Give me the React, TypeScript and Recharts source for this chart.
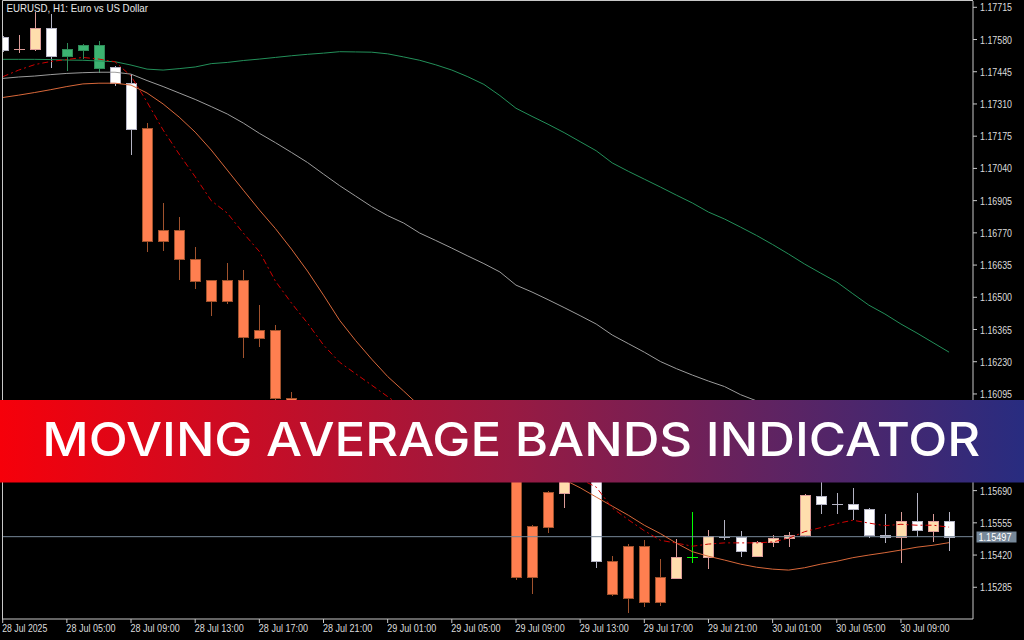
import React from 'react';
import { ComposedChart, Bar, Line, XAxis, YAxis, ReferenceLine } from 'recharts';

// ---- tick labels ----
const timeTicks = [0, 4, 8, 12, 16, 20, 24, 28, 32, 36, 40, 44, 48, 52, 56];
const timeLabels = [
  '28 Jul 2025', '28 Jul 05:00', '28 Jul 09:00', '28 Jul 13:00', '28 Jul 17:00',
  '28 Jul 21:00', '29 Jul 01:00', '29 Jul 05:00', '29 Jul 09:00', '29 Jul 13:00',
  '29 Jul 17:00', '29 Jul 21:00', '30 Jul 01:00', '30 Jul 05:00', '30 Jul 09:00',
];
const priceTicks = [
  1.17715, 1.1758, 1.17445, 1.1731, 1.17175, 1.1704, 1.16905, 1.1677, 1.16635, 1.165,
  1.16365, 1.1623, 1.16095, 1.1596, 1.15825, 1.1569, 1.15555, 1.1542, 1.15285,
];
const priceDomain = [1.151521, 1.177414];
const lastPrice = 1.15497;

// ---- candles (H1 EURUSD) ----
const openP = [
  1.17589, 1.17541, 1.17539, 1.17627, 1.17511, 1.17536, 1.17556, 1.17464, 1.17397, 1.17208,
  1.16737, 1.16782, 1.1666, 1.16572, 1.16485, 1.16572, 1.1633, 1.16365, 1.1608, 1.16057,
  1.15985, 1.1601, 1.15943, 1.15964, 1.15902, 1.15918, 1.1586, 1.15876, 1.15826, 1.15851,
  1.15809, 1.15839, 1.15776, 1.15329, 1.15538, 1.15682, 1.15742, 1.15759, 1.15396, 1.15241,
  1.15458, 1.15224, 1.15324, 1.1541, 1.1541, 1.15496, 1.15494, 1.15417, 1.15475, 1.1549,
  1.15506, 1.15668, 1.15636, 1.15636, 1.15615, 1.15506, 1.15495, 1.15563, 1.15521, 1.15563,
];
const highP = [
  1.17595, 1.17599, 1.17694, 1.17687, 1.17564, 1.17561, 1.17572, 1.17469, 1.17435, 1.17229,
  1.16896, 1.16837, 1.16712, 1.16572, 1.16642, 1.16614, 1.16467, 1.16383, 1.16103, 1.1606,
  1.16027, 1.16019, 1.15985, 1.15973, 1.15943, 1.15935, 1.15902, 1.15889, 1.15868, 1.15872,
  1.1586, 1.15851, 1.15809, 1.15545, 1.15689, 1.15751, 1.15784, 1.15776, 1.15415, 1.15466,
  1.15482, 1.15404, 1.15487, 1.15601, 1.15524, 1.15566, 1.15521, 1.15478, 1.15506, 1.15516,
  1.15675, 1.15742, 1.15678, 1.15703, 1.15616, 1.15594, 1.15601, 1.15681, 1.1559, 1.15601,
];
const lowP = [
  1.17532, 1.17529, 1.17536, 1.17466, 1.17452, 1.17501, 1.17445, 1.17389, 1.17099, 1.16695,
  1.16698, 1.16575, 1.1654, 1.16425, 1.16474, 1.16251, 1.16297, 1.16071, 1.16044, 1.15969,
  1.15952, 1.15918, 1.1591, 1.15876, 1.15868, 1.15839, 1.15826, 1.15801, 1.15792, 1.15776,
  1.15784, 1.15751, 1.15318, 1.15262, 1.15517, 1.15622, 1.1573, 1.15368, 1.15253, 1.15182,
  1.15207, 1.1521, 1.15322, 1.15392, 1.15366, 1.15487, 1.15417, 1.15415, 1.15457, 1.15457,
  1.155, 1.15597, 1.15598, 1.1557, 1.15496, 1.15475, 1.15392, 1.155, 1.15479, 1.15443,
];
const closeP = [
  1.17536, 1.17541, 1.17627, 1.17511, 1.17539, 1.17556, 1.17459, 1.17397, 1.17205, 1.16737,
  1.16782, 1.16659, 1.16569, 1.16485, 1.16572, 1.16334, 1.16365, 1.16076, 1.16057, 1.15985,
  1.1601, 1.15943, 1.15964, 1.15902, 1.15918, 1.1586, 1.15876, 1.15826, 1.15851, 1.15809,
  1.15839, 1.15776, 1.15329, 1.15542, 1.15685, 1.15742, 1.15767, 1.15394, 1.15255, 1.15458,
  1.15224, 1.15327, 1.15412, 1.1541, 1.15499, 1.15496, 1.15438, 1.15473, 1.15492, 1.15506,
  1.15671, 1.15632, 1.15636, 1.15611, 1.15506, 1.15494, 1.15563, 1.15527, 1.15563, 1.15497,
];
const candleKind = [
  'white', 'peach', 'peach', 'white', 'green', 'green', 'green', 'white', 'white', 'orange',
  'orange', 'orange', 'orange', 'orange', 'orange', 'orange', 'orange', 'orange', 'orange', 'orange',
  'orange', 'orange', 'orange', 'orange', 'orange', 'orange', 'orange', 'orange', 'orange', 'orange',
  'orange', 'orange', 'orange', 'orange', 'orange', 'peach', 'orange', 'white', 'orange', 'orange',
  'orange', 'orange', 'peach', 'lime', 'peach', 'white', 'white', 'peach', 'peach', 'peach',
  'peach', 'white', 'white', 'white', 'white', 'white', 'peach', 'white', 'peach', 'white',
];

// ---- moving average bands ----
const bandUpper = [
  1.17497, 1.17497, 1.17497, 1.17496, 1.17494, 1.17493, 1.1749, 1.17487, 1.17473, 1.17456,
  1.17452, 1.17458, 1.17465, 1.17479, 1.17484, 1.17492, 1.17498, 1.17505, 1.17512, 1.17518,
  1.17523, 1.17529, 1.17528, 1.17527, 1.1752, 1.17507, 1.17493, 1.17474, 1.17452, 1.17424,
  1.17392, 1.17345, 1.17292, 1.17258, 1.17225, 1.1719, 1.17152, 1.17114, 1.17063, 1.17028,
  1.16995, 1.16962, 1.16928, 1.16895, 1.16857, 1.16828, 1.16794, 1.16759, 1.16721, 1.16681,
  1.16639, 1.16601, 1.16564, 1.16515, 1.16467, 1.1643, 1.16388, 1.1635, 1.1631, 1.1627,
];
const bandMiddle = [
  1.17417, 1.17423, 1.17427, 1.17433, 1.17438, 1.17441, 1.17443, 1.17443, 1.17435, 1.17408,
  1.17383, 1.17356, 1.17329, 1.17299, 1.17268, 1.1723, 1.17187, 1.17148, 1.17107, 1.17065,
  1.17016, 1.16968, 1.16924, 1.1688, 1.16842, 1.16811, 1.16769, 1.16738, 1.16706, 1.16673,
  1.16641, 1.16606, 1.16551, 1.16522, 1.1649, 1.16457, 1.16423, 1.16388, 1.16342, 1.16306,
  1.1627, 1.16231, 1.16201, 1.16174, 1.16149, 1.16126, 1.16092, 1.16066, 1.16044, 1.16019,
  1.15994, 1.15969, 1.15943, 1.15918, 1.15897, 1.15872, 1.15851, 1.1583, 1.15809, 1.15788,
];
const bandLower = [
  1.17337, 1.17347, 1.17358, 1.1737, 1.17383, 1.17394, 1.17397, 1.17397, 1.17389, 1.17356,
  1.1731, 1.17255, 1.17192, 1.17117, 1.17033, 1.16949, 1.16866, 1.16788, 1.16702, 1.1661,
  1.16509, 1.16404, 1.16319, 1.16241, 1.16168, 1.16107, 1.16044, 1.1599, 1.15943, 1.15902,
  1.15864, 1.1583, 1.15801, 1.15776, 1.15755, 1.15736, 1.15702, 1.15663, 1.15625, 1.15587,
  1.15545, 1.1551, 1.1547, 1.15434, 1.15415, 1.15399, 1.15382, 1.15369, 1.15361, 1.15357,
  1.15367, 1.15382, 1.15394, 1.15409, 1.1542, 1.1543, 1.15441, 1.15453, 1.15461, 1.15472,
];
const fastMA = [
  1.17424, 1.17452, 1.17475, 1.17488, 1.17496, 1.17505, 1.17498, 1.17487, 1.17427, 1.17318,
  1.17201, 1.171, 1.17005, 1.16905, 1.16853, 1.16769, 1.16692, 1.16568, 1.16476, 1.16392,
  1.163, 1.16228, 1.1618, 1.16132, 1.16084, 1.16036, 1.16002, 1.15969, 1.15939, 1.1591,
  1.15885, 1.1586, 1.1583, 1.15801, 1.15776, 1.15755, 1.15738, 1.15705, 1.15617, 1.15568,
  1.15522, 1.15482, 1.1547, 1.15457, 1.15466, 1.15471, 1.15471, 1.15471, 1.15475, 1.1549,
  1.15518, 1.15535, 1.15552, 1.15566, 1.15554, 1.15543, 1.15549, 1.15545, 1.15545, 1.15537,
];

const data = openP.map((o, i) => ({
  i,
  o,
  h: highP[i],
  l: lowP[i],
  c: closeP[i],
  range: [lowP[i], highP[i]],
  kind: candleKind[i],
  upper: bandUpper[i],
  middle: bandMiddle[i],
  lower: bandLower[i],
  fast: fastMA[i],
}));

const KIND_STYLE: Record<string, { fill: string; stroke: string }> = {
  white: { fill: '#ffffff', stroke: '#b4b4c4' },
  peach: { fill: '#ffdead', stroke: '#dc9c98' },
  orange: { fill: '#ff7f50', stroke: '#a0522d' },
  green: { fill: '#3cb371', stroke: '#2e8b57' },
  lime: { fill: '#00ff00', stroke: '#00ff00' },
};

const AXIS_FONT = 'Liberation Sans, Arial, sans-serif';
const AXIS_TEXT = '#dcdcdc';
const AXIS_LINE = '#c8c8c8';

function Candle(props: any) {
  const { x, y, width, height, payload } = props;
  if (x == null || y == null || !payload) return null;
  const top = Math.min(y, y + height);
  const bottom = Math.max(y, y + height);
  const { o, h, l, c, kind } = payload;
  const span = h - l;
  const py = (v: number) => (span > 0 ? top + ((h - v) / span) * (bottom - top) : top);
  const cx = Math.round(x + width / 2 - 0.5) + 0.5;
  const st = KIND_STYLE[kind] || KIND_STYLE.white;
  const yo = py(o);
  const yc = py(c);
  const bTop = Math.round(Math.min(yo, yc)) + 0.5;
  const bBot = Math.round(Math.max(yo, yc)) + 0.5;
  const yh = Math.round(top);
  const yl = Math.round(bottom) + 1;
  return (
    <g shapeRendering="crispEdges">
      <line x1={cx} x2={cx} y1={yh} y2={yl} stroke={st.stroke} strokeWidth={1} />
      {bBot - bTop < 1 ? (
        <line x1={cx - 5.5} x2={cx + 5.5} y1={bTop} y2={bTop} stroke={st.stroke} strokeWidth={1} />
      ) : (
        <rect x={cx - 5} y={bTop} width={10} height={bBot - bTop} fill={st.fill} stroke={st.stroke} strokeWidth={1} />
      )}
    </g>
  );
}

function XTick(props: any) {
  const { x, y, payload } = props;
  const k = timeTicks.indexOf(payload.value);
  const label = k >= 0 ? timeLabels[k] : '';
  return (
    <text
      x={x - 0.5}
      y={y + 6.5}
      fill={AXIS_TEXT}
      fontSize={10.5}
      fontFamily={AXIS_FONT}
      textAnchor="start"
      textLength={label.length * 4.1}
      lengthAdjust="spacingAndGlyphs"
    >
      {label}
    </text>
  );
}

function YTick(props: any) {
  const { x, y, payload } = props;
  const label = Number(payload.value).toFixed(5);
  return (
    <text
      x={x}
      y={y + 4}
      fill={AXIS_TEXT}
      fontSize={10.5}
      fontFamily={AXIS_FONT}
      textAnchor="start"
      textLength={32}
      lengthAdjust="spacingAndGlyphs"
    >
      {label}
    </text>
  );
}

function PriceLabel(props: any) {
  const vb = props.viewBox || {};
  const right = (vb.x || 0) + (vb.width || 0);
  const yy = Math.round(vb.y || 0);
  return (
    <g>
      <rect x={right + 3.5} y={yy - 5.5} width={40} height={11} fill="#778899" />
      <text
        x={right + 5.5}
        y={yy + 4}
        fill="#ffffff"
        fontSize={10.5}
        fontFamily={AXIS_FONT}
        textLength={33}
        lengthAdjust="spacingAndGlyphs"
      >
        {lastPrice.toFixed(5)}
      </text>
    </g>
  );
}

export default function App() {
  return (
    <div
      style={{
        position: 'absolute',
        left: 0,
        top: 0,
        width: 1024,
        height: 640,
        background: '#000000',
        overflow: 'hidden',
      }}
    >
      <ComposedChart
        width={1024}
        height={640}
        data={data}
        margin={{ top: 1, right: 0, bottom: 0, left: 2 }}
      >
        <XAxis
          dataKey="i"
          type="number"
          domain={[-0.0436, 60.492]}
          allowDataOverflow
          ticks={timeTicks}
          interval={0}
          tickSize={4}
          tickMargin={2}
          height={21}
          axisLine={{ stroke: AXIS_LINE }}
          tickLine={{ stroke: AXIS_LINE }}
          tick={<XTick />}
        />
        <YAxis
          orientation="right"
          type="number"
          domain={priceDomain}
          allowDataOverflow
          ticks={priceTicks}
          interval={0}
          width={51}
          tickSize={4}
          tickMargin={3}
          axisLine={{ stroke: AXIS_LINE }}
          tickLine={{ stroke: AXIS_LINE }}
          tick={<YTick />}
        />
        <ReferenceLine y={lastPrice} stroke="#778899" strokeWidth={1} label={<PriceLabel />} />
        <Bar dataKey="range" barSize={11} shape={<Candle />} isAnimationActive={false} />
        <Line dataKey="upper" type="linear" stroke="#23905a" strokeWidth={1} dot={false} activeDot={false} isAnimationActive={false} />
        <Line dataKey="middle" type="linear" stroke="#9c9c9c" strokeWidth={1} dot={false} activeDot={false} isAnimationActive={false} />
        <Line dataKey="lower" type="linear" stroke="#d8683a" strokeWidth={1} dot={false} activeDot={false} isAnimationActive={false} />
        <Line dataKey="fast" type="linear" stroke="#d00000" strokeWidth={1} strokeDasharray="6 3 2 3" dot={false} activeDot={false} isAnimationActive={false} />
      </ComposedChart>
      <svg
        width={1024}
        height={640}
        style={{ position: 'absolute', left: 0, top: 0, pointerEvents: 'none' }}
      >
        <defs>
          <linearGradient id="bannerGrad" x1="0" y1="0" x2="1" y2="0">
            <stop offset="0" stopColor="#f6000a" />
            <stop offset="0.5" stopColor="#981a42" />
            <stop offset="1" stopColor="#282c80" />
          </linearGradient>
        </defs>
        <path d="M2.5 619 V0.5 H973" stroke={AXIS_LINE} fill="none" strokeWidth={1} />
        <text
          x={6.5}
          y={11.5}
          fill="#e8e8e8"
          fontSize={10.5}
          fontFamily={AXIS_FONT}
          textLength={141.5}
          lengthAdjust="spacingAndGlyphs"
        >
          EURUSD, H1:  Euro vs US Dollar
        </text>
        <rect x={0} y={400} width={1024} height={82.5} fill="url(#bannerGrad)" />
        <text
          x={42.3}
          y={456}
          fill="#ffffff"
          fontSize={46}
          fontWeight={500}
          fontFamily="Inter, 'Open Sans', sans-serif"
          textLength={938}
          lengthAdjust="spacingAndGlyphs"
        >
          MOVING AVERAGE BANDS INDICATOR
        </text>
      </svg>
    </div>
  );
}
